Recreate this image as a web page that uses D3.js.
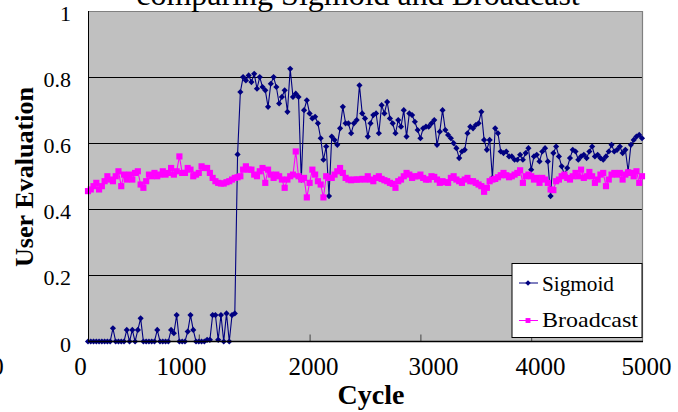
<!DOCTYPE html>
<html><head><meta charset="utf-8">
<script src="https://cdn.jsdelivr.net/npm/d3@7"></script>
<style>body{margin:0;background:#fff;overflow:hidden;} svg{display:block;}</style>
</head><body><svg id="c" width="678" height="412"></svg>
<script>
// ---------- data ----------
const cycleStep = 25; // sampling interval (cycles)
const sigmoid = [
0,0,0,0,0,0,0,0,0,0.04,
0,0,0,0,0.035,0,0.035,0,0.035,0.07,
0,0,0,0,0,0.035,0,0,0,0,
0.035,0.025,0.08,0,0,0,0.03,0.08,0.035,0,
0,0,0,0.005,0.005,0.08,0.08,0.005,0.08,0,
0.085,0,0.08,0.085,0.566,0.755,0.80,0.79,0.805,0.785,
0.81,0.765,0.80,0.77,0.76,0.71,0.78,0.80,0.77,0.72,
0.74,0.76,0.695,0.825,0.74,0.75,0.74,0.49,0.70,0.73,
0.69,0.675,0.68,0.66,0.615,0.55,0.59,0.44,0.62,0.61,
0.595,0.645,0.71,0.66,0.66,0.63,0.66,0.67,0.775,0.69,
0.675,0.62,0.66,0.685,0.69,0.63,0.715,0.69,0.725,0.675,
0.66,0.63,0.67,0.65,0.70,0.62,0.69,0.685,0.665,0.64,
0.615,0.645,0.65,0.65,0.66,0.67,0.595,0.635,0.70,0.64,
0.625,0.615,0.60,0.585,0.555,0.575,0.58,0.63,0.65,0.645,
0.655,0.66,0.695,0.61,0.58,0.61,0.495,0.645,0.63,0.575,
0.57,0.575,0.56,0.56,0.55,0.55,0.565,0.55,0.57,0.585,
0.52,0.56,0.565,0.545,0.575,0.585,0.545,0.44,0.57,0.59,
0.56,0.53,0.505,0.525,0.555,0.58,0.575,0.55,0.56,0.565,
0.555,0.575,0.59,0.56,0.565,0.555,0.55,0.56,0.575,0.595,
0.575,0.58,0.59,0.57,0.58,0.515,0.595,0.61,0.62,0.625,
0.615
];
const broadcast = [
0.455,0.46,0.47,0.48,0.46,0.47,0.485,0.50,0.49,0.485,
0.50,0.515,0.47,0.505,0.49,0.505,0.49,0.51,0.515,0.475,
0.465,0.485,0.505,0.50,0.51,0.50,0.505,0.515,0.505,0.51,
0.525,0.505,0.515,0.56,0.51,0.51,0.525,0.52,0.50,0.505,
0.51,0.53,0.525,0.525,0.51,0.495,0.485,0.48,0.478,0.478,
0.482,0.485,0.49,0.495,0.497,0.50,0.52,0.53,0.52,0.52,
0.505,0.50,0.515,0.525,0.48,0.52,0.505,0.495,0.505,0.50,
0.49,0.465,0.49,0.50,0.505,0.575,0.50,0.49,0.495,0.436,
0.48,0.52,0.505,0.485,0.475,0.436,0.50,0.495,0.495,0.505,
0.515,0.525,0.51,0.495,0.49,0.488,0.49,0.49,0.49,0.492,
0.49,0.50,0.49,0.485,0.495,0.50,0.492,0.488,0.485,0.48,
0.477,0.465,0.485,0.49,0.50,0.51,0.505,0.495,0.50,0.50,
0.505,0.495,0.49,0.49,0.50,0.498,0.49,0.48,0.485,0.482,
0.48,0.495,0.50,0.49,0.485,0.48,0.49,0.495,0.485,0.485,
0.48,0.475,0.47,0.453,0.465,0.485,0.49,0.492,0.497,0.503,
0.51,0.503,0.497,0.50,0.505,0.51,0.518,0.48,0.50,0.505,
0.50,0.49,0.495,0.48,0.495,0.49,0.48,0.46,0.458,0.485,
0.49,0.50,0.505,0.495,0.49,0.50,0.51,0.50,0.52,0.495,
0.50,0.513,0.50,0.48,0.49,0.505,0.51,0.47,0.49,0.505,
0.51,0.505,0.51,0.49,0.505,0.512,0.51,0.50,0.515,0.48,
0.50
];
const seriesNames = ["Sigmoid", "Broadcast"];
const yTicks = [0, 0.2, 0.4, 0.6, 0.8, 1];
const xTickMarks = [1000, 2000, 3000, 4000];
const xTickLabels = ["0", "0", "1000", "2000", "3000", "4000", "5000"];
const chartTitle = "comparing Sigmoid and Broadcast";
const xTitle = "Cycle";
const yTitle = "User Evaluation";

// ---------- layout ----------
const svg = d3.select("#c");
const L = 88, R = 642, T = 11, B = 341.5;
const x = d3.scaleLinear().domain([0, 5000]).range([L, R]);
const y = d3.scaleLinear().domain([0, 1]).range([B, T]);
const serif = "'Liberation Serif','Times New Roman',serif";

// plot background
svg.append("rect").attr("x", L).attr("y", T).attr("width", R - L).attr("height", B - T)
  .attr("fill", "#c0c0c0");

// gridlines
svg.append("g").selectAll("line").data(yTicks.filter(d => d > 0 && d < 1)).join("line")
  .attr("x1", L).attr("x2", R).attr("y1", d => Math.round(y(d)) + 0.5).attr("y2", d => Math.round(y(d)) + 0.5)
  .attr("stroke", "#000").attr("stroke-width", 1);

// top / right border
svg.append("path").attr("d", `M${L},${T + 0.5}H${R + 0.5}V${B}`).attr("fill", "none")
  .attr("stroke", "#808080").attr("stroke-width", 1.2);

// x tick marks (inside)
svg.append("g").attr("transform", `translate(0,${B})`)
  .call(d3.axisBottom(x).tickValues(xTickMarks).tickSize(-7).tickFormat(""))
  .call(g => g.select(".domain").remove())
  .call(g => g.selectAll(".tick line").attr("stroke", "#444"));

// ---------- series ----------
const pts = arr => arr.map((v, i) => [i * cycleStep, v]);
const line = d3.line().x(d => x(d[0])).y(d => y(d[1]));

const sigPts = pts(sigmoid), brPts = pts(broadcast);
const gS = svg.append("g");
gS.append("path").attr("d", line(sigPts)).attr("fill", "none").attr("stroke", "#000080").attr("stroke-width", 1.1);
gS.selectAll("path.m").data(sigPts).join("path").attr("class", "m")
  .attr("d", d3.symbol(d3.symbolSquare, 19))
  .attr("transform", d => `translate(${x(d[0])},${y(d[1])}) rotate(45)`)
  .attr("fill", "#000080");

const gB = svg.append("g");
gB.append("path").attr("d", line(brPts)).attr("fill", "none").attr("stroke", "#ff00ff").attr("stroke-width", 1.1);
gB.selectAll("path.m").data(brPts).join("path").attr("class", "m")
  .attr("d", d3.symbol(d3.symbolSquare, 38))
  .attr("transform", d => `translate(${x(d[0])},${y(d[1])})`)
  .attr("fill", "#ff00ff");

// axis lines
svg.append("line").attr("x1", L + 0.5).attr("x2", L + 0.5).attr("y1", T).attr("y2", B).attr("stroke", "#000");
svg.append("line").attr("x1", L).attr("x2", R + 1).attr("y1", B).attr("y2", B).attr("stroke", "#000").attr("stroke-width", 1.3);

// y tick labels
svg.append("g").attr("transform", "translate(71,0)")
  .call(d3.axisLeft(y).tickValues(yTicks).tickSize(0).tickPadding(0).tickFormat(d3.format("~g")))
  .call(g => g.select(".domain").remove())
  .call(g => g.selectAll("text").attr("x", 0).attr("dy", null).attr("y", 9.5)
    .attr("font-family", serif).attr("font-size", 22).attr("fill", "#000"));

// x tick labels
const labelScale = d3.scaleLinear().domain(d3.range(7)).range([-3, 80, 181, 313, 433, 540, 646]);
svg.append("g").attr("transform", "translate(0,375)")
  .call(d3.axisBottom(labelScale).tickValues(d3.range(7)).tickSize(0).tickFormat(i => xTickLabels[i]))
  .call(g => g.select(".domain").remove())
  .call(g => g.selectAll("text").attr("y", 0).attr("dy", null)
    .attr("font-family", serif).attr("font-size", 25).attr("fill", "#000"));

// titles
svg.append("text").attr("x", 358).attr("y", 5).attr("text-anchor", "middle")
  .attr("font-family", serif).attr("font-size", 32).text(chartTitle);
svg.append("text").attr("x", 371).attr("y", 404).attr("text-anchor", "middle")
  .attr("font-family", serif).attr("font-size", 28).attr("font-weight", "bold").text(xTitle);
svg.append("text").attr("transform", "translate(33,177) rotate(-90)").attr("text-anchor", "middle")
  .attr("font-family", serif).attr("font-size", 26).attr("font-weight", "bold")
  .attr("textLength", 180).attr("lengthAdjust", "spacingAndGlyphs").text(yTitle);

// legend
const lg = svg.append("g");
lg.append("rect").attr("x", 512).attr("y", 263.5).attr("width", 130).attr("height", 74)
  .attr("fill", "#fff").attr("stroke", "#000").attr("stroke-width", 1);
const legendItems = [
  { name: seriesNames[0], color: "#000080", sym: d3.symbolSquare, size: 15, rot: 45, ly: 283, ty: 290.5, len: 72 },
  { name: seriesNames[1], color: "#ff00ff", sym: d3.symbolSquare, size: 24, rot: 0, ly: 320.5, ty: 326.5, len: 96 }
];
legendItems.forEach(it => {
  lg.append("line").attr("x1", 519).attr("x2", 538).attr("y1", it.ly).attr("y2", it.ly)
    .attr("stroke", it.color).attr("stroke-width", 1);
  lg.append("path").attr("d", d3.symbol(it.sym, it.size))
    .attr("transform", `translate(528,${it.ly}) rotate(${it.rot})`).attr("fill", it.color);
  lg.append("text").attr("x", 542).attr("y", it.ty).attr("font-family", serif).attr("font-size", 22)
    .attr("textLength", it.len).attr("lengthAdjust", "spacingAndGlyphs").text(it.name);
});
</script>
</body></html>
